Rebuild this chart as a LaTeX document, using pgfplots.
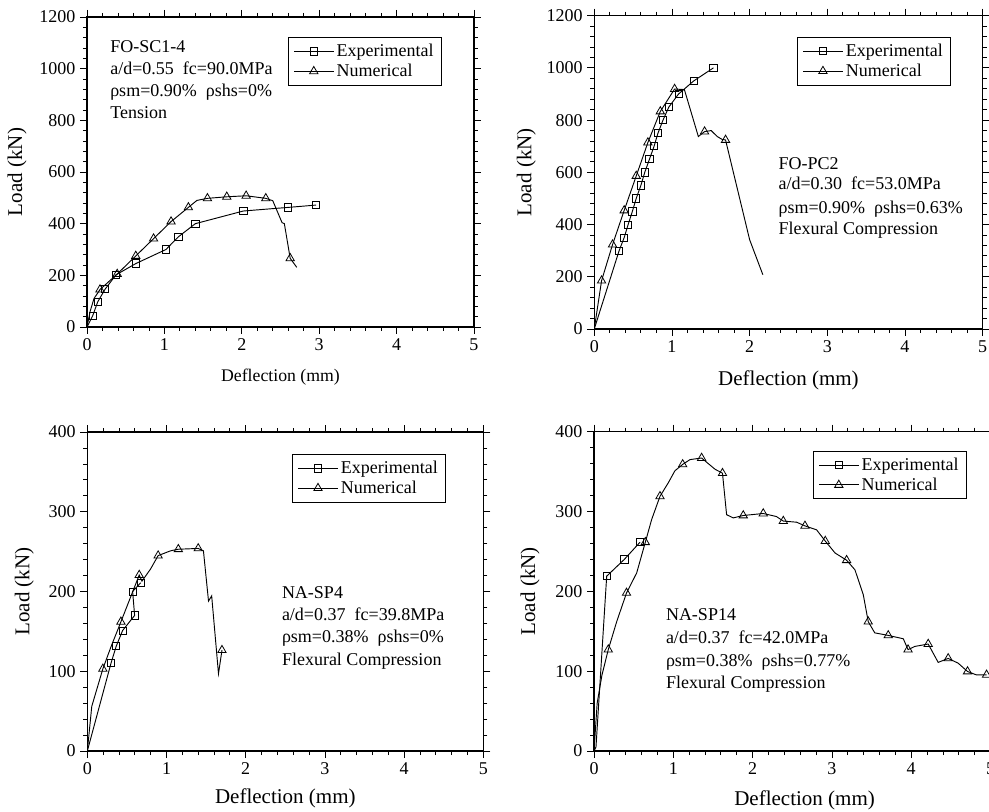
\documentclass[border=0pt]{standalone}
\usepackage{fontspec}
\setmainfont{Liberation Serif}
\usepackage{pgfplots}
\pgfplotsset{compat=1.18}
\pgfplotsset{
  panel/.style={
    scale only axis,
    anchor=south west,
    xmin=0, xmax=5, ymin=0,
    xtick={0,1,2,3,4,5},
    minor x tick num=4,
    minor y tick num=4,
    tick align=outside,
    major tick length=5.25pt,
    minor tick length=3pt,
    axis line style={line width=0.9pt},
    every tick/.style={black, line width=0.6pt},
    /pgf/number format/assume math mode=true,
    /pgf/number format/1000 sep={},
    tick label style={font=\fontsize{13.5}{16}\selectfont},
    label style={font=\fontsize{15.75}{18}\selectfont},
    xlabel={Deflection (mm)},
    ylabel={Load (kN)},
    legend cell align=left,
    legend style={font=\fontsize{13.5}{16}\selectfont, draw=black, line width=0.6pt,
      anchor=north west, inner xsep=4pt, inner ysep=3pt, row sep=0pt},
    legend image code/.code={
      \draw[black, line width=0.7pt] (0cm,0cm) -- (1.04cm,0cm);
      \draw[#1] plot coordinates {(0.52cm,0cm)};
    },
  },
  expl/.style={black, line width=0.7pt, mark=none, forget plot},
  expm/.style={only marks, mark=square, mark size=2.7pt, mark options={black, solid, fill=white, line width=0.6pt}},
  numm/.style={only marks, mark=triangle, mark size=3.6pt, mark options={black, solid, fill=white, line width=0.6pt}},
}
\begin{document}
\begin{tikzpicture}
\clip (0pt,0pt) rectangle (741.75pt,-609pt);

% ---------------- Panel 1: FO-SC1-4
\begin{axis}[panel,
  at={(65.25pt,-245.25pt)}, width=290.25pt, height=232.5pt,
  ymax=1200, ytick={0,200,...,1200},
  xlabel style={font=\fontsize{13.3}{16}\selectfont, at={(axis description cs:0.5,-0.161)}, anchor=center},
  ylabel style={at={(axis description cs:-0.181,0.5)}, anchor=center},
  legend style={at={(axis description cs:0.519,0.935)}},
]
\addplot[expl] coordinates {(0,0) (0.073,43) (0.138,97) (0.233,146) (0.375,202) (0.634,246) (1.02,300) (1.18,349) (1.40,400) (2.02,449) (2.60,463) (2.96,472)};
\addplot[expl] coordinates {(0,0) (0.04,60) (0.09,110) (0.168,145) (0.39,205) (0.63,275) (0.86,342) (1.086,408) (1.31,463) (1.42,490) (1.556,498) (1.806,504) (2.056,508) (2.31,498) (2.40,489) (2.52,404) (2.55,400) (2.625,266) (2.71,231)};
\addplot[expm] coordinates {(0.073,43) (0.138,97) (0.233,146) (0.375,202) (0.634,246) (1.02,300) (1.18,349) (1.40,400) (2.02,449) (2.60,463) (2.96,472)};
\addlegendentry{Experimental}
\addplot[numm] coordinates {(0.168,145) (0.39,205) (0.63,275) (0.86,342) (1.086,408) (1.31,463) (1.556,498) (1.806,504) (2.056,508) (2.31,498) (2.625,266)};
\addlegendentry{Numerical}
\end{axis}

% ---------------- Panel 2: FO-PC2
\begin{axis}[panel,
  at={(445.7pt,-246.75pt)}, width=291.3pt, height=235pt,
  ymax=1200, ytick={0,200,...,1200},
  xlabel style={at={(axis description cs:0.5,-0.163)}, anchor=center},
  ylabel style={at={(axis description cs:-0.175,0.5)}, anchor=center},
  legend style={at={(axis description cs:0.522,0.932)}},
]
\addplot[expl] coordinates {(0,0) (0.32,300) (0.385,350) (0.436,400) (0.49,450) (0.54,500) (0.60,550) (0.65,600) (0.71,650) (0.77,700) (0.82,750) (0.885,800) (0.96,850) (1.085,900) (1.28,950) (1.534,1000)};
\addplot[expl] coordinates {(0,0) (0.094,185) (0.235,323) (0.385,454) (0.54,586) (0.69,714) (0.85,833) (1.034,919) (1.16,917) (1.34,737) (1.42,756) (1.505,760) (1.583,737) (1.647,726) (1.69,724) (2.0,342) (2.17,208)};
\addplot[expm] coordinates {(0.32,300) (0.385,350) (0.436,400) (0.49,450) (0.54,500) (0.60,550) (0.65,600) (0.71,650) (0.77,700) (0.82,750) (0.885,800) (0.96,850) (1.085,900) (1.28,950) (1.534,1000)};
\addlegendentry{Experimental}
\addplot[numm] coordinates {(0.094,185) (0.235,323) (0.385,454) (0.54,586) (0.69,714) (0.85,833) (1.034,919) (1.42,756) (1.69,724)};
\addlegendentry{Numerical}
\end{axis}

% ---------------- Panel 3: NA-SP4
\begin{axis}[panel,
  at={(65.5pt,-563.25pt)}, width=297pt, height=239.25pt,
  ymax=400, ytick={0,100,...,400},
  xlabel style={at={(axis description cs:0.5,-0.147)}, anchor=center},
  ylabel style={at={(axis description cs:-0.159,0.5)}, anchor=center},
  legend style={at={(axis description cs:0.517,0.931)}},
]
\addplot[expl] coordinates {(0,0) (0.30,110.5) (0.365,131.5) (0.445,151) (0.597,170) (0.572,200) (0.674,211)};
\addplot[expl] coordinates {(0,0) (0.056,56) (0.196,103) (0.30,131) (0.424,162) (0.655,220.6) (0.69,213) (0.797,228) (0.894,245) (1.05,251) (1.149,253) (1.40,254) (1.466,251) (1.53,188) (1.57,194.5) (1.656,97) (1.70,126.4)};
\addplot[expm] coordinates {(0.30,110.5) (0.365,131.5) (0.445,151) (0.597,170) (0.572,200) (0.674,211)};
\addlegendentry{Experimental}
\addplot[numm] coordinates {(0.196,103) (0.424,162) (0.655,220.6) (0.894,245) (1.149,253) (1.40,254) (1.70,126.4)};
\addlegendentry{Numerical}
\end{axis}

% ---------------- Panel 4: NA-SP14
\begin{axis}[panel,
  at={(445.5pt,-563.25pt)}, width=297.4pt, height=239.5pt,
  ymax=400, ytick={0,100,...,400},
  xlabel style={at={(axis description cs:0.531,-0.154)}, anchor=center},
  ylabel style={at={(axis description cs:-0.161,0.5)}, anchor=center},
  legend style={at={(axis description cs:0.552,0.94)}},
]
\addplot[expl] coordinates {(0,0) (0.025,5) (0.16,219) (0.382,240) (0.58,261.5)};
\addplot[expl] coordinates {(0,0) (0.04,60) (0.1,95) (0.18,127) (0.286,162) (0.41,198) (0.538,223) (0.647,261.5) (0.727,290) (0.832,319) (0.937,336) (1.02,351) (1.118,359) (1.21,365) (1.357,367) (1.525,353) (1.62,348) (1.672,296) (1.756,292) (1.882,295) (2.134,297.5) (2.3,293.7) (2.387,288) (2.555,286.6) (2.66,282) (2.807,277) (2.916,263) (3.04,248) (3.185,239) (3.29,227) (3.395,196) (3.458,162) (3.54,148) (3.71,144.8) (3.9,140.6) (3.96,127) (4.046,131) (4.214,134) (4.34,111) (4.466,116) (4.592,110) (4.71,99.6) (4.82,95.4) (4.95,95.4)};
\addplot[expm] coordinates {(0.16,219) (0.382,240) (0.58,261.5)};
\addlegendentry{Experimental}
\addplot[numm] coordinates {(0.18,127) (0.41,198) (0.647,261.5) (0.832,319) (1.118,359) (1.357,367) (1.62,348) (1.882,295) (2.134,297.5) (2.387,288) (2.66,282) (2.916,263) (3.185,239) (3.458,162) (3.71,144.8) (3.96,127) (4.214,134) (4.466,116) (4.71,99.6) (4.95,95.4)};
\addlegendentry{Numerical}
\end{axis}

% ---------------- annotations
\begin{scope}[every node/.style={anchor=base west, inner sep=0pt, font=\fontsize{13.5}{16}\selectfont}]
\node at (82.5pt,-39.75pt) {FO-SC1-4};
\node at (82.5pt,-56.25pt) {a/d=0.55\ \ fc=90.0MPa};
\node at (82.5pt,-72.75pt) {ρsm=0.90\%\ \ ρshs=0\%};
\node at (82.5pt,-88.7pt) {Tension};

\node at (583.7pt,-127pt) {FO-PC2};
\node at (583.7pt,-142.5pt) {a/d=0.30\ \ fc=53.0MPa};
\node at (583.7pt,-160pt) {ρsm=0.90\%\ \ ρshs=0.63\%};
\node at (583.7pt,-176.25pt) {Flexural Compression};

\node at (211.3pt,-449.25pt) {NA-SP4};
\node at (211.3pt,-465pt) {a/d=0.37\ \ fc=39.8MPa};
\node at (211.3pt,-482pt) {ρsm=0.38\%\ \ ρshs=0\%};
\node at (211.3pt,-498.75pt) {Flexural Compression};

\node at (499.3pt,-465pt) {NA-SP14};
\node at (499.3pt,-482.5pt) {a/d=0.37\ \ fc=42.0MPa};
\node at (499.3pt,-499.5pt) {ρsm=0.38\%\ \ ρshs=0.77\%};
\node at (499.3pt,-516.25pt) {Flexural Compression};
\end{scope}
\end{tikzpicture}
\end{document}
